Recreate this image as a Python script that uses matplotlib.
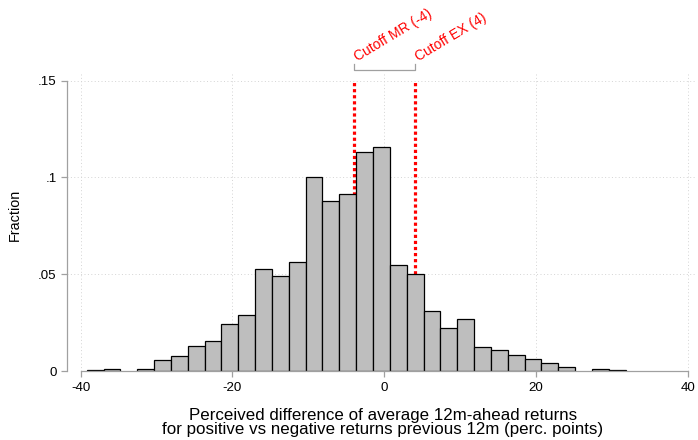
import numpy as np
import matplotlib

matplotlib.use("Agg")
import matplotlib.pyplot as plt

# histogram: 32 bins starting at -39.21, width ~2.22
bin_start = -39.21
bin_width = 2.219
fractions = [0.0004, 0.0009, 0.0, 0.0009, 0.0059, 0.0076, 0.0128, 0.0157,
             0.0243, 0.0290, 0.0529, 0.0493, 0.0562, 0.1004, 0.0881, 0.0917,
             0.1131, 0.1157, 0.0550, 0.0503, 0.0309, 0.0222, 0.0267, 0.0126,
             0.0110, 0.0084, 0.0064, 0.0040, 0.0022, 0.0, 0.0009, 0.0003]

cutoff_x = [-4, 4]
cutoff_labels = ["Cutoff MR (-4)", "Cutoff EX (4)"]
cutoff_top = 0.15

x_ticks = [-40, -20, 0, 20, 40]
x_ticklabels = ["-40", "-20", "0", "20", "40"]
y_ticks = [0, 0.05, 0.1, 0.15]
y_ticklabels = ["0", ".05", ".1", ".15"]

plt.rcParams["font.family"] = ["Liberation Sans", "DejaVu Sans"]

fig = plt.figure(figsize=(6.98, 4.40), dpi=100)
ax = fig.add_axes([67 / 698, 1 - 371 / 440, 630 / 698, 299 / 440])
ax.set_xlim(-41.8, 41.2)
ax.set_ylim(0, 0.1545)

# dotted grid
for x in x_ticks:
    ax.axvline(x, color="#d4d4d4", lw=0.7, ls=(0, (1, 2.5)), zorder=0)
for y in y_ticks:
    ax.axhline(y, color="#d4d4d4", lw=0.7, ls=(0, (1, 2.5)), zorder=0)

# cutoff lines sit behind the bars
for x in cutoff_x:
    ax.plot([x, x], [0, cutoff_top], color="red", lw=2.3,
            ls=(0, (1, 0.9)), zorder=1, dash_capstyle="butt")

edges = bin_start + bin_width * np.arange(len(fractions))
h = np.array(fractions)
keep = h > 0
ax.bar(edges[keep], h[keep], width=bin_width, align="edge",
       color="#bebebe", edgecolor="black", linewidth=0.9, zorder=2)

# bracket + rotated labels above the plot area
y_br = 0.1556
y_tk = 0.1588
ax.plot([cutoff_x[0], cutoff_x[0], cutoff_x[1], cutoff_x[1]],
        [y_tk, y_br, y_br, y_tk], color="#a0a0a0", lw=0.9, clip_on=False)
for x, lab in zip(cutoff_x, cutoff_labels):
    ax.text(x + 0.5, 0.1598, lab, color="red", fontsize=10, rotation=31,
            rotation_mode="anchor", ha="left", va="baseline", clip_on=False)

for s in ["top", "right"]:
    ax.spines[s].set_visible(False)
ax.spines["left"].set_bounds(0, 0.15)
ax.spines["bottom"].set_bounds(-40, 40)
for s in ["left", "bottom"]:
    ax.spines[s].set_color("#a0a0a0")
    ax.spines[s].set_linewidth(0.9)

ax.set_xticks(x_ticks, x_ticklabels)
ax.set_yticks(y_ticks, y_ticklabels)
ax.tick_params(axis="both", direction="out", length=4.2, width=0.9,
               color="#a0a0a0", labelsize=9.6)
ax.tick_params(axis="x", pad=3.5)
ax.tick_params(axis="y", pad=3.2)

fig.text(14.5 / 698, 1 - 215 / 440, "Fraction", rotation=90, fontsize=10.4,
         ha="center", va="center")
fig.text(383 / 698, 1 - 420 / 440,
         "Perceived difference of average 12m-ahead returns",
         fontsize=12.2, ha="center", va="baseline")
fig.text(383 / 698, 1 - 434.3 / 440,
         "for positive vs negative returns previous 12m (perc. points)",
         fontsize=12.2, ha="center", va="baseline")

fig.savefig("out.png", dpi=100)
